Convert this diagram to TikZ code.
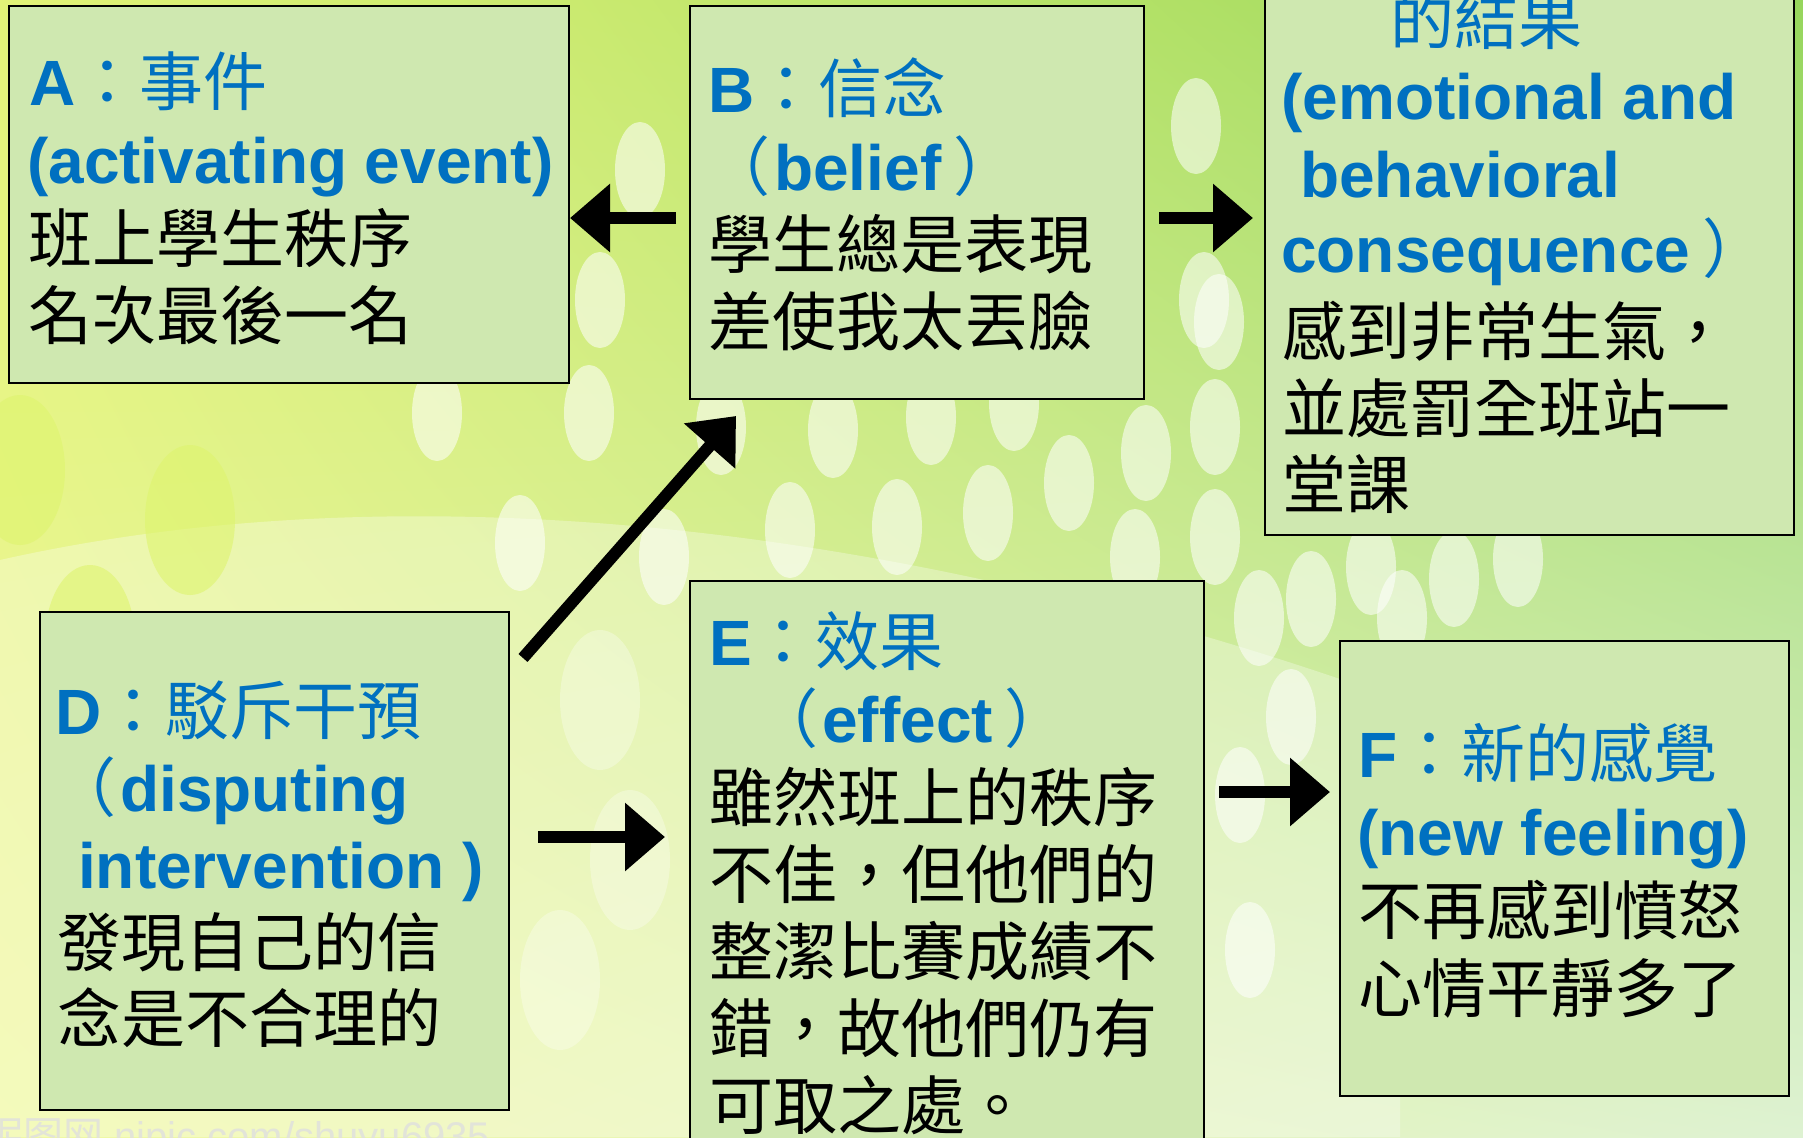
\documentclass[tikz,border=0pt]{standalone}
\usepackage{fontspec}
\setmainfont{Liberation Sans}
\newfontfamily\cjk{Noto Sans CJK TC}
\usetikzlibrary{arrows.meta,calc,shadings}
\definecolor{tblue}{RGB}{0,112,192}
\definecolor{boxfill}{RGB}{207,232,176}
\definecolor{bgul}{RGB}{226,243,120}
\definecolor{bgur}{RGB}{150,214,92}
\definecolor{bgll}{RGB}{240,248,160}
\definecolor{bglr}{RGB}{222,242,210}
\definecolor{yblob}{RGB}{222,244,110}
\begin{document}
\begin{tikzpicture}[x=1pt,y=-1pt,
  box/.style={draw=black, line width=2pt, fill=boxfill, anchor=north west, inner sep=0pt, outer sep=0pt},
  tb/.style={anchor=base west, inner sep=0pt, text=tblue, font=\fontsize{64}{77}\selectfont},
  tk/.style={anchor=base west, inner sep=0pt, text=black, font=\cjk\fontsize{64}{77}\selectfont},
  arr/.style={line width=12pt, -{Triangle[length=40pt,width=66pt]}},
  spot/.style={fill=white, opacity=0.55},
  pale/.style={fill=white, opacity=0.3}]
\useasboundingbox (0,0) rectangle (1803,1137);
\clip (0,0) rectangle (1803,1137);
% background
\shade[upper left=bgul, upper right=bgur, lower left=bgll, lower right=bglr]
  (0,0) rectangle (1803,1137);
\fill[pale] (0,560) .. controls (400,470) and (900,520) .. (1400,700) -- (1400,1137) -- (0,1137) -- cycle;
\foreach \x/\y in {437/413,589/413,721/427,833/430,931/417,1014/403,1069/483,1146/453,1215/427,
                   520/543,664/557,790/530,897/527,988/513,1135/557,1215/537,
                   1196/126,1219/322,1204/300,
                   1259/618,1311/599,1371/567,1402/618,1454/579,1518/559,1240/795,1291/717,1250/950,
                   600/300,640/170}
  \fill[spot] (\x,\y) ellipse [x radius=25pt, y radius=48pt];
\foreach \x/\y in {600/700,630/860,560/980}
  \fill[pale] (\x,\y) ellipse [x radius=40pt, y radius=70pt];
\foreach \x/\y in {190/520,20/470,90/640}
  \fill[yblob, opacity=0.6] (\x,\y) ellipse [x radius=45pt, y radius=75pt];
\node[anchor=base west, inner sep=0pt, text=white!75!gray, opacity=0.8, font=\fontsize{40}{40}\selectfont] (wm) at (-17,1150) {{\cjk 昵图网} nipic.com/shuyu6935};
% boxes
\node[box, minimum width=560pt, minimum height=377pt] (A) at (9,6) {};
\node[box, minimum width=454pt, minimum height=393pt] (B) at (690,6) {};
\node[box, minimum width=529pt, minimum height=575pt] (C) at (1265,-40) {};
\node[box, minimum width=469pt, minimum height=498pt] (D) at (40,612) {};
\node[box, minimum width=514pt, minimum height=600pt] (E) at (690,581) {};
\node[box, minimum width=449pt, minimum height=455pt] (F) at (1340,641) {};
% A
\node[tb] (A1) at (29,106) {{\bfseries A}{\cjk ：事件}};
\node[tb] (A2) at (27,183) {\bfseries (activating event)};
\node[tk] (A3) at (28,262) {班上學生秩序};
\node[tk] (A4) at (28,339) {名次最後一名};
% B
\node[tb] (B1) at (708,113) {{\bfseries B}{\cjk ：信念}};
\node[tb] (B2) at (706,190) {{\cjk （}\hspace{4pt}{\bfseries belief}\hspace{12pt}{\cjk ）}};
\node[tk] (B3) at (708,268) {學生總是表現};
\node[tk] (B4) at (708,345) {差使我太丟臉};
% C
\node[tb, font=\cjk\fontsize{64}{77}\selectfont] (C1) at (1390,45) {的結果};
\node[tb] (C2) at (1281,120) {\bfseries (emotional and};
\node[tb] (C3) at (1300,197) {\bfseries behavioral};
\node[tb] (C4) at (1281,272) {{\bfseries consequence}\hspace{12pt}{\cjk ）}};
\node[tk] (C5) at (1282,355) {感到非常生氣，};
\node[tk] (C6) at (1282,432) {並處罰全班站一};
\node[tk] (C7) at (1282,508) {堂課};
% D
\node[tb] (D1) at (55,734) {{\bfseries D}{\cjk ：駁斥干預}};
\node[tb] (D2) at (52,811) {{\cjk （}\hspace{4pt}{\bfseries disputing}};
\node[tb] (D3) at (78,888) {\bfseries intervention )};
\node[tk] (D4) at (57,966) {發現自己的信};
\node[tk] (D5) at (57,1042) {念是不合理的};
% E
\node[tb] (E1) at (709,665) {{\bfseries E}{\cjk ：效果}};
\node[tb] (E2) at (754,742) {{\cjk （}\hspace{4pt}{\bfseries effect}\hspace{12pt}{\cjk ）}};
\node[tk] (E3) at (709,821) {雖然班上的秩序};
\node[tk] (E4) at (709,898) {不佳，但他們的};
\node[tk] (E5) at (709,975) {整潔比賽成績不};
\node[tk] (E6) at (709,1052) {錯，故他們仍有};
\node[tk] (E7) at (709,1129) {可取之處。};
% F
\node[tb] (F1) at (1358,777) {{\bfseries F}{\cjk ：新的感覺}};
\node[tb] (F2) at (1357,855) {\bfseries (new feeling)};
\node[tk] (F3) at (1358,934) {不再感到憤怒};
\node[tk] (F4) at (1358,1012) {心情平靜多了};
% arrows
\draw[arr] ($(B.north west)+(-14,212)$) -- ($(A.north east)+(1,212)$);
\draw[arr] ($(B.north east)+(15,212)$) -- ($(C.west |- B.north)+(-12,212)$);
\draw[arr] ($(D.north east)+(14,46)$) -- ($(B.south west)+(46,17)$);
\draw[arr] ($(D.north east)+(29,225)$) -- ($(E.north west)+(-25,256)$);
\draw[arr] ($(E.north east)+(15,211)$) -- ($(F.north west)+(-10,151)$);
\end{tikzpicture}
\end{document}
